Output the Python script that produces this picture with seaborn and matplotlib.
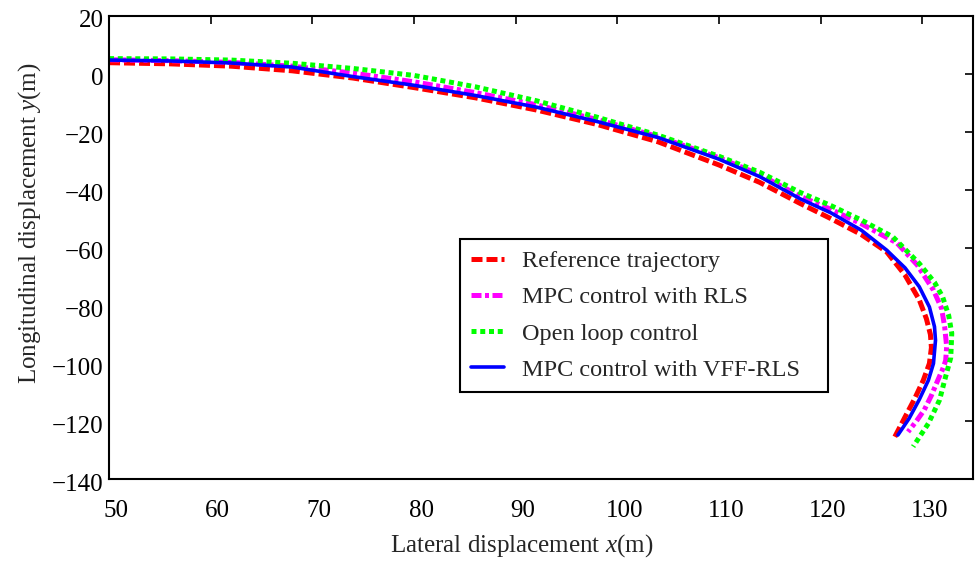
import matplotlib
matplotlib.use("Agg")
import matplotlib.pyplot as plt
import matplotlib.transforms as mtransforms
import seaborn as sns
import numpy as np

# ---- data ----
x_ref = [50, 56, 62, 68, 74, 80, 86, 92, 98, 104, 110, 114, 118, 121, 124, 126.5,
         128.3, 129.7, 130.4, 130.8, 130.9, 130.7, 130.1, 129.2, 128.3, 127.3]
y_ref = [3.8, 3.4, 2.6, 1.0, -1.5, -4.8, -8.3, -12.5, -17.5, -23.5, -31.5, -37.5,
         -44.8, -50.0, -55.5, -61.5, -69.5, -78.0, -84.5, -90.0, -94.5, -100.0,
         -105.8, -112.5, -118.5, -125.3]

x_rls = [50, 56, 62, 68, 74, 80, 86, 92, 98, 104, 110, 114, 118, 121, 124, 127.5,
         129.5, 131.1, 131.9, 132.2, 132.4, 132.3, 132.0, 131.5, 130.9, 130.2, 129.4, 128.6]
y_rls = [4.8, 4.5, 3.9, 2.6, 0.2, -2.8, -6.5, -10.7, -15.8, -21.7, -29.0, -34.8,
         -42.3, -46.8, -51.8, -58.4, -66.0, -74.7, -81.0, -87.3, -94.2, -99.0,
         -102.0, -106.0, -111.0, -116.0, -120.0, -123.6]

x_open = [50, 56, 62, 68, 74, 80, 86, 92, 98, 104, 110, 114, 118, 121, 124, 127.1,
          129.7, 131.2, 132.0, 132.6, 132.9, 132.8, 132.2, 131.7, 130.6, 129.1]
y_open = [5.2, 5.1, 4.7, 3.6, 1.8, -0.6, -4.5, -9.3, -15.0, -21.2, -28.5, -34.0,
          -41.0, -45.5, -50.5, -56.3, -65.5, -72.0, -77.0, -83.5, -89.6, -98.0,
          -105.8, -112.6, -120.7, -128.7]

x_vff = [50, 56, 62, 68, 74, 80, 86, 92, 98, 104, 110, 114, 118, 121, 124, 126.5,
         128.3, 129.7, 130.7, 131.2, 131.3, 131.1, 130.6, 129.7, 128.7, 127.6]
y_vff = [4.7, 4.4, 3.7, 2.3, -1.0, -4.0, -7.5, -11.5, -16.5, -22.0, -29.5, -35.5,
         -43.2, -48.0, -54.0, -60.9, -67.0, -73.5, -80.5, -87.3, -92.0, -100.0,
         -105.8, -112.5, -119.0, -124.7]

labels = ["Reference trajectory", "MPC control with RLS",
          "Open loop control", "MPC control with VFF-RLS"]
x_ticks = [50, 60, 70, 80, 90, 100, 110, 120, 130]
y_ticks = [20, 0, -20, -40, -60, -80, -100, -120, -140]

# ---- style ----
sns.set_style("white")
plt.rcParams["font.family"] = ["Liberation Serif", "DejaVu Serif"]
plt.rcParams["mathtext.fontset"] = "custom"
plt.rcParams["mathtext.rm"] = "Liberation Serif"
plt.rcParams["mathtext.it"] = "Liberation Serif:italic"

fig = plt.figure(figsize=(9.78, 5.62), dpi=100)
ax = fig.add_axes([0.1115, 0.147, 0.8835, 0.825])

series = [
    (x_ref, y_ref, "#ff0000", (2.2, 0.8), 3.6),
    (x_rls, y_rls, "#ff00ff", (2.0, 0.7, 0.8, 0.7), 3.6),
    (x_open, y_open, "#00ff00", (1.0, 0.75), 3.6),
    (x_vff, y_vff, "#0000ff", None, 2.6),
]
for (xs, ys, col, dsh, lw), lab in zip(series, labels):
    sns.lineplot(x=xs, y=ys, sort=False, estimator=None, color=col, lw=lw,
                 ax=ax, label=lab)
    line = ax.lines[-1]
    if dsh is not None:
        line.set_dashes(dsh)

ax.set_xlim(50, 135)
ax.set_ylim(-140, 20)
ax.set_xticks(x_ticks)
ax.set_yticks(y_ticks)
ax.tick_params(direction="in", top=True, right=True, length=6, width=1.2,
               labelsize=18, colors="black")
ax.tick_params(axis="x", pad=15)
ax.tick_params(axis="y", pad=4)
for sp in ax.spines.values():
    sp.set_linewidth(1.5)
    sp.set_color("black")

# MATLAB-like slight offsets of tick labels
xoff = mtransforms.ScaledTranslation(7 / 100, 0, fig.dpi_scale_trans)
for lbl in ax.get_xticklabels():
    lbl.set_transform(lbl.get_transform() + xoff)
yoff = mtransforms.ScaledTranslation(0, -3 / 100, fig.dpi_scale_trans)
for lbl in ax.get_yticklabels():
    lbl.set_transform(lbl.get_transform() + yoff)

ax.set_xlabel("Lateral displacement $x$(m)", fontsize=18)
ax.set_ylabel("Longitudinal displacement $y$(m)", fontsize=18)
ax.xaxis.set_label_coords(0.478, -0.113)
ax.yaxis.set_label_coords(-0.077, 0.553)

leg = ax.legend(loc="upper left", bbox_to_anchor=(0.4059, 0.0, 0.4267, 0.5177),
                mode="expand", fontsize=17.5,
                frameon=True, fancybox=False, edgecolor="black",
                handlelength=1.36, handletextpad=0.73, labelspacing=0.58,
                borderpad=0.45, borderaxespad=0)
leg.get_frame().set_linewidth(1.5)
leg.get_frame().set_alpha(1)

fig.savefig("out.png", dpi=100)
